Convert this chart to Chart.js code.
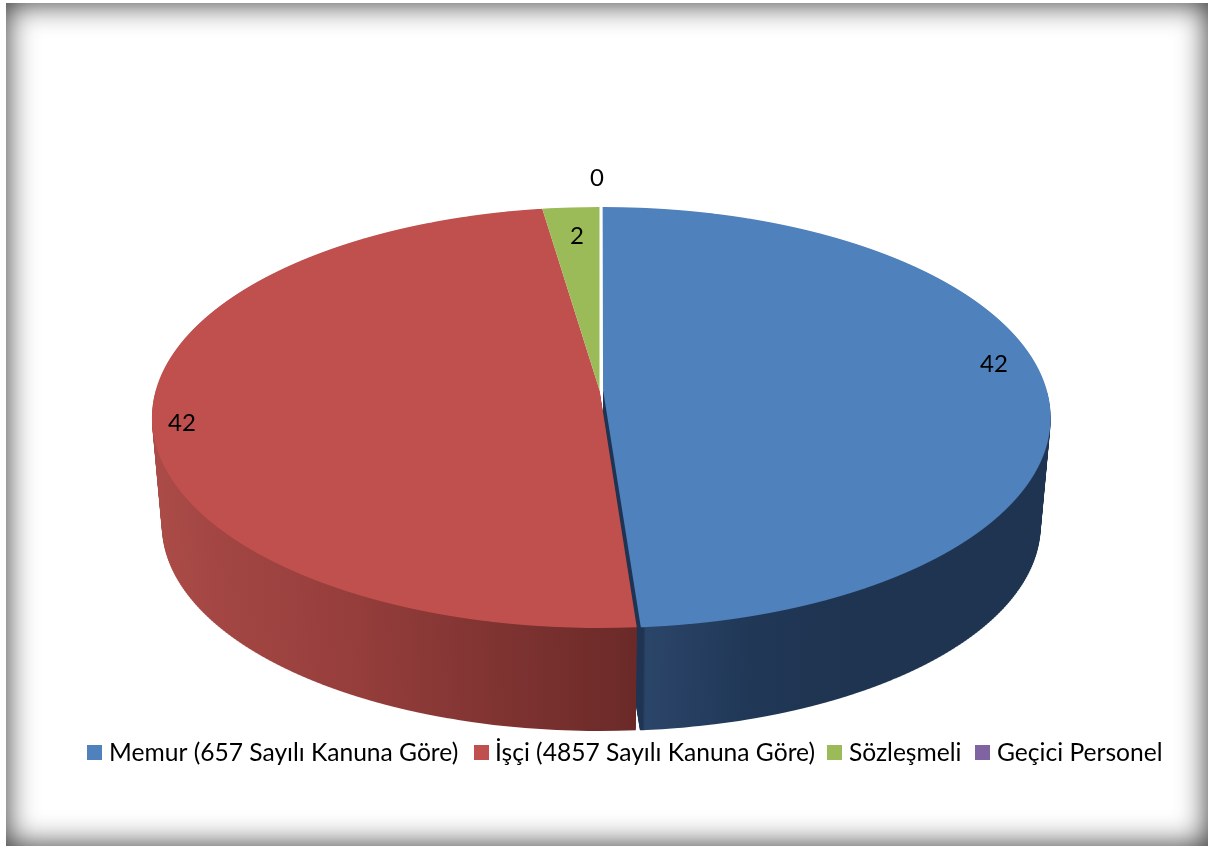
<!DOCTYPE html>
<html lang="tr">
<head>
<meta charset="utf-8">
<style>
html,body{margin:0;padding:0;background:#fff;width:1208px;height:846px;overflow:hidden}
#frame{position:absolute;left:6px;top:3px;width:1202px;height:843px;box-shadow:inset 0 0 30px rgba(0,0,0,.82)}
#c{position:absolute;left:0;top:0}
</style>
<script src="https://cdn.jsdelivr.net/npm/chart.js@4/dist/chart.umd.min.js"></script>
</head>
<body>
<div id="frame"></div>
<canvas id="c" width="1208" height="846"></canvas>
<script>
const categories = ['Memur (657 Sayılı Kanuna Göre)', 'İşçi (4857 Sayılı Kanuna Göre)', 'Sözleşmeli', 'Geçici Personel'];
const seriesValues = [42, 42, 2, 0];
const topColors = ['#4F81BD', '#C0504D', '#9BBB59', '#8064A2'];
const legendBoxX = [87, 474, 827, 975];
const legendTextX = [109, 495, 849, 997];
const valueLabelPos = [[994, 364], [182, 423], [577, 236], [597, 178]];

const FONT = 'Lato, "Open Sans", sans-serif';
const PERSP = -0.1306, CX = 599.5, TOP = {cy: 417.5, rx: 447.5, ry: 210.5};
const DEPTH = 103, SHIFT_U = [0.008, 0, 0, 0];

function layer(t) {
  return {cy: 417.5 + 108 * t, rx: 447.5 - 10 * t, ry: 210.5 - 5 * t};
}
function drawWarped(ctx, arc, L, step, shiftU, fromY, toY) {
  const R = arc.outerRadius, c = PERSP, a = L.ry, b = L.ry * c, d = L.rx * Math.sqrt(1 - c * c);
  for (let Y = fromY; Y < toY; Y += step) {
    const ym = Y + step / 2 - L.cy;
    const v0 = (ym - b) / (a - c * ym);
    const D = 1 + c * v0, s = d / D, J = (a - b * c) / (D * D);
    ctx.save();
    ctx.beginPath();
    ctx.rect(0, Y, 1208, step);
    ctx.clip();
    ctx.setTransform(s / R, 0, 0, J / R,
      CX + shiftU * s - arc.x * s / R,
      L.cy + ym - J * v0 - J * arc.y / R);
    arc.draw(ctx);
    ctx.restore();
  }
}
function wallGradient(ctx, arc, stops) {
  const R = arc.outerRadius;
  const g = ctx.createLinearGradient(arc.x - R, 0, arc.x + R, 0);
  stops.forEach(s => g.addColorStop((s[0] + 1) / 2, s[1]));
  return g;
}
const wallStops = [
  [[0, 'rgb(30,52,82)'], [0.078, 'rgb(30,52,82)'], [0.083, 'rgb(43,69,105)'], [0.3, 'rgb(32,55,86)'], [0.5, 'rgb(30,52,80)'], [1, 'rgb(30,52,80)']],
  [[-1, 'rgb(172,76,72)'], [-0.5, 'rgb(150,62,60)'], [0.09, 'rgb(105,41,39)'], [1, 'rgb(105,41,39)']]
];

const warpPlugin = {
  id: 'warp',
  beforeDatasetsDraw(chart) {
    const ctx = chart.ctx, arcs = chart.getDatasetMeta(0).data;
    // side walls, farthest layer first
    [0, 1].forEach(i => {
      const arc = arcs[i], saved = arc.options;
      const o = Object.create(saved);
      o.backgroundColor = wallGradient(ctx, arc, wallStops[i]);
      arc.options = o;
      for (let k = DEPTH; k >= 1; k--) {
        const L = layer(k / DEPTH);
        const apex = Math.floor(L.cy + L.ry * PERSP);
        drawWarped(ctx, arc, L, 2, SHIFT_U[i], apex, Math.ceil(L.cy + L.ry) + 2);
      }
      arc.options = saved;
    });
    // top surface
    arcs.forEach((arc, i) => {
      drawWarped(ctx, arc, TOP, 1, SHIFT_U[i], 200, 635);
    });
    return false;
  },
  afterDraw(chart) {
    const ctx = chart.ctx;
    ctx.save();
    ctx.fillStyle = '#000';
    ctx.font = '24px ' + FONT;
    ctx.textAlign = 'center';
    ctx.textBaseline = 'middle';
    seriesValues.forEach((v, i) => ctx.fillText(String(v), valueLabelPos[i][0], valueLabelPos[i][1]));
    ctx.font = '24.6px ' + FONT;
    ctx.textAlign = 'left';
    categories.forEach((name, i) => {
      ctx.fillStyle = topColors[i];
      ctx.fillRect(legendBoxX[i], 745, 15, 15);
      ctx.fillStyle = '#000';
      ctx.fillText(name, legendTextX[i], 753);
    });
    ctx.restore();
  }
};

new Chart(document.getElementById('c'), {
  type: 'pie',
  data: {
    labels: categories,
    datasets: [{data: seriesValues, backgroundColor: topColors, borderWidth: 0}]
  },
  options: {
    responsive: false,
    animation: false,
    events: [],
    plugins: {legend: {display: false}, tooltip: {enabled: false}}
  },
  plugins: [warpPlugin]
});
</script>
</body>
</html>
